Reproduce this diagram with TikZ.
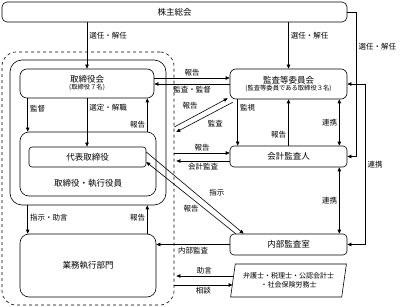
\documentclass[tikz,border=0pt]{standalone}
\usepackage{fontspec}
\setmainfont{Noto Sans CJK JP}
\usetikzlibrary{arrows.meta,shapes.geometric}

\begin{document}
\begin{tikzpicture}[x=1pt,y=-1pt,line width=0.6pt,
    >={Triangle[length=4pt,width=3.4pt]},
    box/.style={draw,rounded corners=5pt,inner sep=0pt,align=center,font=\fontsize{8.5}{10}\selectfont},
    lbl/.style={font=\fontsize{7.5}{9}\selectfont,inner sep=2pt},
    piccolo/.style={font=\fontsize{6.3}{7}\selectfont}]
    \useasboundingbox (0,0) rectangle (407,307);
    % --- cornici della societa ---
    \node[draw,dashed,rounded corners=14pt,minimum width=172pt,minimum height=253pt] (waku) at (88,178.5) {};
    \node[draw,rounded corners=12pt,minimum width=156pt,minimum height=145pt] (keiei) at (88,132.5) {};
    % --- organi ---
    \node[box,minimum width=345pt,minimum height=20pt] (soukai) at (174.5,12) {株主総会};
    \node[box,rounded corners=7pt,minimum width=134pt,minimum height=29pt] (torikai) at (87,83.5)
        {取締役会\\[-3pt]{\fontsize{6.3}{7}\selectfont (取締役７名)}};
    \node[box,rounded corners=9pt,minimum width=136pt,minimum height=64pt,
          label={[lbl,font=\fontsize{8.5}{10}\selectfont,anchor=center,yshift=13pt]south:取締役・執行役員}] (yakuin) at (88,164) {};
    \node[box,rounded corners=3pt,minimum width=117pt,minimum height=20pt] (daihyo) at (87.5,157) {代表取締役};
    \node[box,rounded corners=9pt,minimum width=136pt,minimum height=63pt] (gyomu) at (88,265.5) {業務執行部門};
    \node[box,rounded corners=6pt,minimum width=117pt,minimum height=30pt] (kansatou) at (288.5,84)
        {監査等委員会\\[-3pt]{\fontsize{6.3}{7}\selectfont (監査等委員である取締役３名)}};
    \node[box,rounded corners=4pt,minimum width=117pt,minimum height=21pt] (kaikei) at (288.5,156.5) {会計監査人};
    \node[box,rounded corners=4pt,minimum width=117pt,minimum height=21pt] (naibu) at (288.5,244.5) {内部監査室};
    \node[draw,trapezium,trapezium left angle=75,trapezium right angle=105,trapezium stretches=true,
          minimum width=117pt,minimum height=33pt,inner sep=0pt,align=center,
          font=\fontsize{7}{8.5}\selectfont] (senmon) at (288.5,280.5)
        {弁護士・税理士・公認会計士\\・社会保険労務士};
    % --- nomina dagli azionisti ---
    \draw[->] (torikai.north |- soukai.south) -- node[lbl,pos=0.28,right]{選任・解任} (torikai.north);
    \draw[->] (kansatou.north |- soukai.south) -- node[lbl,pos=0.28,right]{選任・解任} (kansatou.north);
    \draw[->] (soukai.east) -- ++(9,0) |- node[lbl,pos=0.12,right]{選任・解任} (kaikei.east);
    \draw[<->] (kansatou.east) -- ++(18,0) |- node[lbl,pos=0.25,right]{連携} (naibu.east);
    % --- interno consiglio ---
    \draw[->] ([xshift=8pt]torikai.south west) -- ([xshift=8pt]torikai.south west |- yakuin.north)
        node[lbl,pos=0.3,right]{監督};
    \draw[->] (torikai.south) -- (torikai.south |- daihyo.north) node[lbl,pos=0.2,right]{選定・解職};
    \draw[->] ([xshift=-9pt]yakuin.north east) -- ([xshift=-9pt]yakuin.north east |- torikai.south)
        node[lbl,pos=0.2,left]{報告};
    \draw[->] ([xshift=18pt]keiei.south west) -- ([xshift=18pt]keiei.south west |- gyomu.north)
        node[lbl,pos=0.45,right]{指示・助言};
    \draw[->] ([xshift=-9pt]gyomu.north east) -- ([xshift=-9pt]gyomu.north east |- keiei.south)
        node[lbl,pos=0.55,left]{報告};
    % --- consiglio <-> comitato ---
    \draw[->] ([yshift=5.5pt]torikai.east) -- ([yshift=5.5pt]torikai.east -| kansatou.west)
        node[lbl,midway,above]{報告};
    \draw[->] (kansatou.west) -- (kansatou.west -| torikai.east) node[lbl,midway,below]{監査・監督};
    \coordinate (d1) at (waku.east |- 0,127);
    \coordinate (d2) at (waku.east |- 0,132);
    \draw[->] (d1) -- ([shift={(-2,-1)}]kansatou.south west) node[lbl,midway,above left=1pt]{報告};
    \draw[->] ([shift={(3,3)}]kansatou.south west) -- ([xshift=2pt]d2) node[lbl,midway,below right=1pt]{監査};
    % --- revisore contabile ---
    \coordinate (k1) at ([yshift=3.5pt]kaikei.west);
    \coordinate (k2) at ([yshift=-4.5pt]kaikei.west);
    \draw[->] (waku.east |- k1) -- (k1) node[lbl,midway,above]{報告};
    \draw[->] (k2) -- ([xshift=2pt]waku.east |- k2) node[lbl,midway,below]{会計監査};
    \draw[->] ([xshift=8pt]kansatou.south west) -- ([xshift=8pt]kansatou.south west |- kaikei.north)
        node[lbl,pos=0.17,right]{監視};
    \draw[->] (kaikei.north) -- (kaikei.north |- kansatou.south) node[lbl,pos=0.23,left]{報告};
    \draw[<->] ([xshift=-8pt]kansatou.south east) -- ([xshift=-8pt]kansatou.south east |- kaikei.north)
        node[lbl,midway,left]{連携};
    \draw[<->] ([xshift=-8pt]kaikei.south east) -- ([xshift=-8pt]kaikei.south east |- naibu.north)
        node[lbl,midway,left]{連携};
    % --- audit interno ---
    \draw[->] ([yshift=5pt]daihyo.east) -- ([shift={(14,0)}]naibu.north west) node[lbl,midway,right=12pt]{指示};
    \draw[->] ([shift={(6,0)}]naibu.north west) -- ([yshift=-5pt]daihyo.east) node[lbl,midway,below=5pt]{報告};
    \draw[->] (naibu.west) -- (naibu.west -| gyomu.east) node[lbl,midway,below]{内部監査};
    % --- professionisti esterni ---
    \coordinate (s1) at ([yshift=4.5pt]senmon.west);
    \coordinate (s2) at ([yshift=-4.5pt]senmon.west);
    \draw[->] (s1) -- ([xshift=2pt]waku.east |- s1) node[lbl,midway,above]{助言};
    \draw[->] (waku.east |- s2) -- (s2) node[lbl,midway,below]{相談};
\end{tikzpicture}
\end{document}
